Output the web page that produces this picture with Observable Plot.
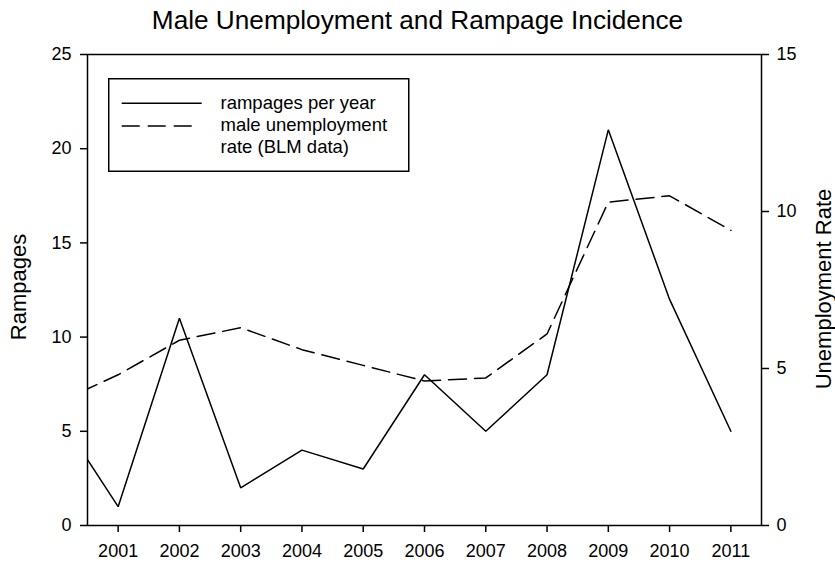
<!DOCTYPE html>
<html><head><meta charset="utf-8">
<script src="https://cdn.jsdelivr.net/npm/d3@7"></script>
<script src="https://cdn.jsdelivr.net/npm/@observablehq/plot@0.6"></script>
<style>
body{margin:0;background:#fff;font-family:"Liberation Sans",Arial,sans-serif;}
#wrap{position:relative;width:835px;height:562px;overflow:hidden;}
#title{height:40px;line-height:40px;text-align:center;font-size:26.2px;color:#000;white-space:nowrap;}
#legend{position:absolute;left:108px;top:78px;}
</style></head><body>
<div id="wrap"><div id="title"></div><div id="chart"></div><svg id="legend" width="302" height="95"></svg></div>
<script>
const title = "Male Unemployment and Rampage Incidence";
const years = [2000, 2001, 2002, 2003, 2004, 2005, 2006, 2007, 2008, 2009, 2010, 2011];
const rampages = [6, 1, 11, 2, 4, 3, 8, 5, 8, 21, 12, 5];
const unemployment = [3.9, 4.8, 5.9, 6.3, 5.6, 5.1, 4.6, 4.7, 6.1, 10.3, 10.5, 9.4];
const xTicks = [2001, 2002, 2003, 2004, 2005, 2006, 2007, 2008, 2009, 2010, 2011];
const leftTicks = [0, 5, 10, 15, 20, 25];
const rightTicks = [0, 5, 10, 15];
const leftLabel = "Rampages";
const rightLabel = "Unemployment Rate";
const legendLabels = ["rampages per year", "male unemployment", "rate (BLM data)"];

document.getElementById("title").textContent = title;

const k = 25 / 15; // right axis (0–15) mapped onto left axis (0–25)
const rows = years.map((yr, i) => ({year: yr, r: rampages[i], u: unemployment[i]}));

const chart = Plot.plot({
  width: 835,
  height: 522,
  marginTop: 14,
  marginBottom: 37,
  marginLeft: 87,
  marginRight: 74,
  style: {fontFamily: '"Liberation Sans", Arial, sans-serif', fontSize: "18px", color: "black", background: "white"},
  x: {domain: [2000.5, 2011.5]},
  y: {domain: [0, 25]},
  marks: [
    Plot.line(rows, {x: "year", y: "r", stroke: "black", strokeWidth: 1.5, strokeLinejoin: "miter", clip: true}),
    Plot.line(rows, {x: "year", y: d => d.u * k, stroke: "black", strokeWidth: 1.5, strokeDasharray: "18,8", strokeLinejoin: "miter", clip: true}),
    Plot.frame({stroke: "black", strokeWidth: 1.5}),
    Plot.axisX({ticks: xTicks, tickFormat: d => String(d), tickSize: 7, tickPadding: 12, strokeWidth: 1.5, label: null}),
    Plot.axisY({ticks: leftTicks, tickFormat: d => String(d), tickSize: 7, tickPadding: 9, strokeWidth: 1.5, label: null}),
    Plot.axisY(rightTicks.map(v => v * k), {anchor: "right", tickFormat: d => String(Math.round(d / k)), tickSize: 7, tickPadding: 8, strokeWidth: 1.5, label: null}),
    Plot.text([leftLabel], {text: d => d, frameAnchor: "left", textAnchor: "middle", rotate: -90, dx: -69, dy: -3, fontSize: 22, fill: "black"}),
    Plot.text([rightLabel], {text: d => d, frameAnchor: "right", textAnchor: "middle", rotate: -90, dx: 62, dy: -1, fontSize: 22, fill: "black"})
  ]
});
document.getElementById("chart").appendChild(chart);

// legend
const lg = d3.select("#legend");
lg.append("rect").attr("x", 0.75).attr("y", 0.75).attr("width", 300).attr("height", 92.5)
  .attr("fill", "white").attr("stroke", "black").attr("stroke-width", 1.5);
lg.append("line").attr("x1", 13.7).attr("x2", 93.7).attr("y1", 25.3).attr("y2", 25.3)
  .attr("stroke", "black").attr("stroke-width", 1.5);
lg.append("line").attr("x1", 13.7).attr("x2", 85.7).attr("y1", 48).attr("y2", 48)
  .attr("stroke", "black").attr("stroke-width", 1.5).attr("stroke-dasharray", "18,8");
legendLabels.forEach((t, i) => {
  lg.append("text").attr("x", 112.5).attr("y", 31.3 + 22 * i)
    .attr("font-family", '"Liberation Sans", Arial, sans-serif').attr("font-size", 18.5)
    .attr("fill", "black").text(t);
});
</script>
</body></html>
